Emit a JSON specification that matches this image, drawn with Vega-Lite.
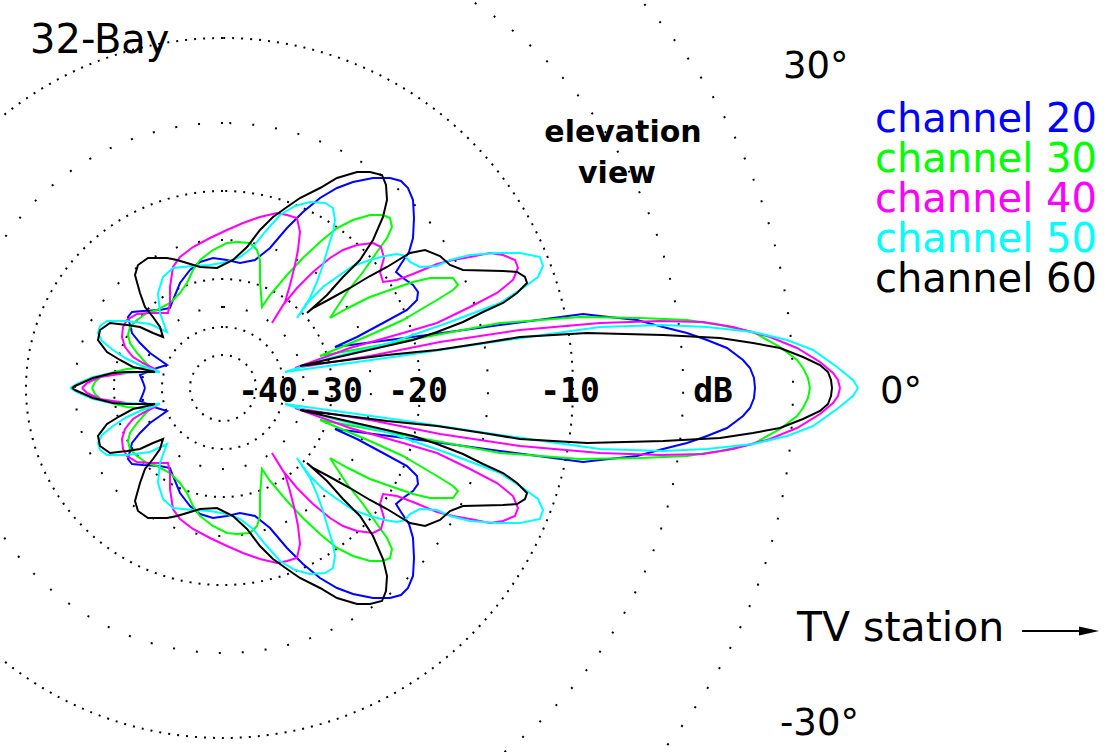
{
  "$schema": "https://vega.github.io/schema/vega-lite/v6.json",
  "description": "32-Bay antenna elevation pattern, channels 20 to 60 (upper half traced, lower half mirrored by scale)",
  "width": 1105,
  "height": 752,
  "autosize": {"type": "none"},
  "padding": 0,
  "background": "white",
  "config": {"view": {"stroke": null}},
  "datasets": {
    "pattern": [
      {"ch":"channel 20","x":532,"y":0},{"ch":"channel 20","x":531,"y":10},{"ch":"channel 20","x":527,"y":20},{"ch":"channel 20","x":520,"y":28},{"ch":"channel 20","x":504,"y":40},{"ch":"channel 20","x":484,"y":48},{"ch":"channel 20","x":464,"y":55},{"ch":"channel 20","x":440,"y":61},{"ch":"channel 20","x":414,"y":68},{"ch":"channel 20","x":377,"y":72},{"ch":"channel 20","x":360,"y":74},{"ch":"channel 20","x":277,"y":63},{"ch":"channel 20","x":197,"y":52},{"ch":"channel 20","x":112,"y":41},{"ch":"channel 20","x":134,"y":51},{"ch":"channel 20","x":160,"y":65},{"ch":"channel 20","x":184,"y":78},{"ch":"channel 20","x":194,"y":88},{"ch":"channel 20","x":195,"y":96},{"ch":"channel 20","x":190,"y":103},{"ch":"channel 20","x":180,"y":110},{"ch":"channel 20","x":173,"y":116},{"ch":"channel 20","x":178,"y":124},{"ch":"channel 20","x":186,"y":136},{"ch":"channel 20","x":190,"y":150},{"ch":"channel 20","x":191,"y":170},{"ch":"channel 20","x":190,"y":188},{"ch":"channel 20","x":185,"y":200},{"ch":"channel 20","x":178,"y":207},{"ch":"channel 20","x":167,"y":210},{"ch":"channel 20","x":150,"y":210},{"ch":"channel 20","x":130,"y":206},{"ch":"channel 20","x":114,"y":200},{"ch":"channel 20","x":97,"y":190},{"ch":"channel 20","x":80,"y":176},{"ch":"channel 20","x":64,"y":160},{"ch":"channel 20","x":47,"y":140},{"ch":"channel 20","x":32,"y":128},{"ch":"channel 20","x":17,"y":125},{"ch":"channel 20","x":4,"y":128},{"ch":"channel 20","x":-10,"y":130},{"ch":"channel 20","x":-23,"y":126},{"ch":"channel 20","x":-33,"y":118},{"ch":"channel 20","x":-43,"y":105},{"ch":"channel 20","x":-50,"y":88},{"ch":"channel 20","x":-53,"y":80},{"ch":"channel 20","x":-63,"y":78},{"ch":"channel 20","x":-80,"y":77},{"ch":"channel 20","x":-91,"y":76},{"ch":"channel 20","x":-95,"y":71},{"ch":"channel 20","x":-91,"y":55},{"ch":"channel 20","x":-83,"y":45},{"ch":"channel 20","x":-73,"y":35},{"ch":"channel 20","x":-63,"y":28},{"ch":"channel 20","x":-56,"y":23},{"ch":"channel 20","x":-66,"y":20},{"ch":"channel 20","x":-83,"y":13},{"ch":"channel 20","x":-80,"y":6},{"ch":"channel 20","x":-78,"y":0},
      {"ch":"channel 30","x":587,"y":0},{"ch":"channel 30","x":585,"y":10},{"ch":"channel 30","x":580,"y":20},{"ch":"channel 30","x":574,"y":28},{"ch":"channel 30","x":557,"y":41},{"ch":"channel 30","x":530,"y":56},{"ch":"channel 30","x":497,"y":63},{"ch":"channel 30","x":464,"y":68},{"ch":"channel 30","x":417,"y":70},{"ch":"channel 30","x":357,"y":71},{"ch":"channel 30","x":277,"y":65},{"ch":"channel 30","x":197,"y":50},{"ch":"channel 30","x":97,"y":32},{"ch":"channel 30","x":147,"y":53},{"ch":"channel 30","x":180,"y":68},{"ch":"channel 30","x":197,"y":78},{"ch":"channel 30","x":214,"y":88},{"ch":"channel 30","x":230,"y":98},{"ch":"channel 30","x":235,"y":103},{"ch":"channel 30","x":230,"y":110},{"ch":"channel 30","x":207,"y":110},{"ch":"channel 30","x":190,"y":106},{"ch":"channel 30","x":167,"y":98},{"ch":"channel 30","x":147,"y":91},{"ch":"channel 30","x":125,"y":80},{"ch":"channel 30","x":107,"y":70},{"ch":"channel 30","x":124,"y":96},{"ch":"channel 30","x":140,"y":116},{"ch":"channel 30","x":154,"y":136},{"ch":"channel 30","x":164,"y":150},{"ch":"channel 30","x":169,"y":161},{"ch":"channel 30","x":167,"y":170},{"ch":"channel 30","x":160,"y":173},{"ch":"channel 30","x":147,"y":173},{"ch":"channel 30","x":130,"y":168},{"ch":"channel 30","x":114,"y":160},{"ch":"channel 30","x":97,"y":146},{"ch":"channel 30","x":80,"y":130},{"ch":"channel 30","x":64,"y":113},{"ch":"channel 30","x":47,"y":93},{"ch":"channel 30","x":39,"y":81},{"ch":"channel 30","x":37,"y":108},{"ch":"channel 30","x":37,"y":128},{"ch":"channel 30","x":34,"y":138},{"ch":"channel 30","x":27,"y":145},{"ch":"channel 30","x":14,"y":146},{"ch":"channel 30","x":4,"y":145},{"ch":"channel 30","x":-10,"y":138},{"ch":"channel 30","x":-23,"y":128},{"ch":"channel 30","x":-30,"y":118},{"ch":"channel 30","x":-36,"y":105},{"ch":"channel 30","x":-43,"y":95},{"ch":"channel 30","x":-53,"y":85},{"ch":"channel 30","x":-66,"y":78},{"ch":"channel 30","x":-76,"y":75},{"ch":"channel 30","x":-86,"y":68},{"ch":"channel 30","x":-93,"y":61},{"ch":"channel 30","x":-95,"y":53},{"ch":"channel 30","x":-93,"y":45},{"ch":"channel 30","x":-86,"y":35},{"ch":"channel 30","x":-78,"y":26},{"ch":"channel 30","x":-73,"y":21},{"ch":"channel 30","x":-96,"y":19},{"ch":"channel 30","x":-120,"y":13},{"ch":"channel 30","x":-128,"y":6},{"ch":"channel 30","x":-131,"y":0},
      {"ch":"channel 40","x":617,"y":0},{"ch":"channel 40","x":615,"y":8},{"ch":"channel 40","x":610,"y":15},{"ch":"channel 40","x":597,"y":26},{"ch":"channel 40","x":574,"y":40},{"ch":"channel 40","x":547,"y":51},{"ch":"channel 40","x":510,"y":61},{"ch":"channel 40","x":480,"y":66},{"ch":"channel 40","x":437,"y":67},{"ch":"channel 40","x":377,"y":65},{"ch":"channel 40","x":297,"y":58},{"ch":"channel 40","x":217,"y":46},{"ch":"channel 40","x":147,"y":32},{"ch":"channel 40","x":72,"y":20},{"ch":"channel 40","x":127,"y":40},{"ch":"channel 40","x":180,"y":55},{"ch":"channel 40","x":214,"y":65},{"ch":"channel 40","x":247,"y":81},{"ch":"channel 40","x":274,"y":95},{"ch":"channel 40","x":290,"y":108},{"ch":"channel 40","x":295,"y":120},{"ch":"channel 40","x":292,"y":128},{"ch":"channel 40","x":280,"y":133},{"ch":"channel 40","x":267,"y":135},{"ch":"channel 40","x":247,"y":131},{"ch":"channel 40","x":230,"y":128},{"ch":"channel 40","x":214,"y":124},{"ch":"channel 40","x":190,"y":114},{"ch":"channel 40","x":174,"y":108},{"ch":"channel 40","x":160,"y":106},{"ch":"channel 40","x":157,"y":116},{"ch":"channel 40","x":161,"y":130},{"ch":"channel 40","x":158,"y":141},{"ch":"channel 40","x":150,"y":145},{"ch":"channel 40","x":134,"y":143},{"ch":"channel 40","x":120,"y":138},{"ch":"channel 40","x":107,"y":130},{"ch":"channel 40","x":90,"y":116},{"ch":"channel 40","x":74,"y":100},{"ch":"channel 40","x":60,"y":83},{"ch":"channel 40","x":49,"y":65},{"ch":"channel 40","x":62,"y":86},{"ch":"channel 40","x":67,"y":103},{"ch":"channel 40","x":72,"y":123},{"ch":"channel 40","x":75,"y":138},{"ch":"channel 40","x":77,"y":156},{"ch":"channel 40","x":74,"y":170},{"ch":"channel 40","x":64,"y":173},{"ch":"channel 40","x":54,"y":175},{"ch":"channel 40","x":37,"y":171},{"ch":"channel 40","x":20,"y":165},{"ch":"channel 40","x":4,"y":158},{"ch":"channel 40","x":-13,"y":150},{"ch":"channel 40","x":-30,"y":141},{"ch":"channel 40","x":-43,"y":131},{"ch":"channel 40","x":-50,"y":121},{"ch":"channel 40","x":-53,"y":101},{"ch":"channel 40","x":-53,"y":85},{"ch":"channel 40","x":-55,"y":75},{"ch":"channel 40","x":-73,"y":75},{"ch":"channel 40","x":-86,"y":74},{"ch":"channel 40","x":-96,"y":68},{"ch":"channel 40","x":-100,"y":61},{"ch":"channel 40","x":-101,"y":51},{"ch":"channel 40","x":-98,"y":41},{"ch":"channel 40","x":-90,"y":31},{"ch":"channel 40","x":-80,"y":25},{"ch":"channel 40","x":-68,"y":19},{"ch":"channel 40","x":-73,"y":16},{"ch":"channel 40","x":-90,"y":16},{"ch":"channel 40","x":-123,"y":11},{"ch":"channel 40","x":-136,"y":5},{"ch":"channel 40","x":-141,"y":0},
      {"ch":"channel 50","x":635,"y":0},{"ch":"channel 50","x":630,"y":8},{"ch":"channel 50","x":614,"y":21},{"ch":"channel 50","x":590,"y":38},{"ch":"channel 50","x":564,"y":48},{"ch":"channel 50","x":530,"y":56},{"ch":"channel 50","x":484,"y":61},{"ch":"channel 50","x":440,"y":63},{"ch":"channel 50","x":377,"y":61},{"ch":"channel 50","x":277,"y":47},{"ch":"channel 50","x":177,"y":32},{"ch":"channel 50","x":62,"y":16},{"ch":"channel 50","x":107,"y":30},{"ch":"channel 50","x":167,"y":45},{"ch":"channel 50","x":227,"y":66},{"ch":"channel 50","x":277,"y":85},{"ch":"channel 50","x":300,"y":100},{"ch":"channel 50","x":315,"y":111},{"ch":"channel 50","x":320,"y":122},{"ch":"channel 50","x":317,"y":131},{"ch":"channel 50","x":297,"y":135},{"ch":"channel 50","x":274,"y":135},{"ch":"channel 50","x":247,"y":133},{"ch":"channel 50","x":227,"y":128},{"ch":"channel 50","x":214,"y":122},{"ch":"channel 50","x":197,"y":121},{"ch":"channel 50","x":187,"y":126},{"ch":"channel 50","x":182,"y":132},{"ch":"channel 50","x":174,"y":134},{"ch":"channel 50","x":162,"y":132},{"ch":"channel 50","x":147,"y":128},{"ch":"channel 50","x":130,"y":122},{"ch":"channel 50","x":114,"y":111},{"ch":"channel 50","x":100,"y":101},{"ch":"channel 50","x":87,"y":88},{"ch":"channel 50","x":74,"y":70},{"ch":"channel 50","x":87,"y":90},{"ch":"channel 50","x":94,"y":106},{"ch":"channel 50","x":100,"y":123},{"ch":"channel 50","x":105,"y":140},{"ch":"channel 50","x":110,"y":156},{"ch":"channel 50","x":112,"y":168},{"ch":"channel 50","x":110,"y":180},{"ch":"channel 50","x":102,"y":185},{"ch":"channel 50","x":87,"y":186},{"ch":"channel 50","x":72,"y":182},{"ch":"channel 50","x":57,"y":173},{"ch":"channel 50","x":42,"y":156},{"ch":"channel 50","x":30,"y":141},{"ch":"channel 50","x":17,"y":131},{"ch":"channel 50","x":4,"y":126},{"ch":"channel 50","x":-13,"y":123},{"ch":"channel 50","x":-30,"y":122},{"ch":"channel 50","x":-50,"y":120},{"ch":"channel 50","x":-60,"y":111},{"ch":"channel 50","x":-65,"y":95},{"ch":"channel 50","x":-63,"y":75},{"ch":"channel 50","x":-58,"y":61},{"ch":"channel 50","x":-56,"y":56},{"ch":"channel 50","x":-73,"y":64},{"ch":"channel 50","x":-96,"y":67},{"ch":"channel 50","x":-116,"y":67},{"ch":"channel 50","x":-123,"y":62},{"ch":"channel 50","x":-125,"y":55},{"ch":"channel 50","x":-121,"y":47},{"ch":"channel 50","x":-110,"y":38},{"ch":"channel 50","x":-96,"y":29},{"ch":"channel 50","x":-83,"y":23},{"ch":"channel 50","x":-63,"y":16},{"ch":"channel 50","x":-110,"y":15},{"ch":"channel 50","x":-130,"y":11},{"ch":"channel 50","x":-146,"y":4},{"ch":"channel 50","x":-153,"y":0},
      {"ch":"channel 60","x":609,"y":0},{"ch":"channel 60","x":608,"y":8},{"ch":"channel 60","x":605,"y":16},{"ch":"channel 60","x":597,"y":23},{"ch":"channel 60","x":580,"y":31},{"ch":"channel 60","x":557,"y":40},{"ch":"channel 60","x":530,"y":45},{"ch":"channel 60","x":497,"y":50},{"ch":"channel 60","x":440,"y":53},{"ch":"channel 60","x":364,"y":55},{"ch":"channel 60","x":297,"y":51},{"ch":"channel 60","x":260,"y":45},{"ch":"channel 60","x":214,"y":38},{"ch":"channel 60","x":164,"y":33},{"ch":"channel 60","x":77,"y":22},{"ch":"channel 60","x":137,"y":36},{"ch":"channel 60","x":190,"y":48},{"ch":"channel 60","x":214,"y":56},{"ch":"channel 60","x":240,"y":66},{"ch":"channel 60","x":260,"y":76},{"ch":"channel 60","x":280,"y":85},{"ch":"channel 60","x":294,"y":95},{"ch":"channel 60","x":304,"y":105},{"ch":"channel 60","x":302,"y":111},{"ch":"channel 60","x":294,"y":116},{"ch":"channel 60","x":280,"y":117},{"ch":"channel 60","x":240,"y":118},{"ch":"channel 60","x":227,"y":123},{"ch":"channel 60","x":217,"y":132},{"ch":"channel 60","x":202,"y":138},{"ch":"channel 60","x":187,"y":135},{"ch":"channel 60","x":177,"y":129},{"ch":"channel 60","x":164,"y":121},{"ch":"channel 60","x":147,"y":112},{"ch":"channel 60","x":127,"y":100},{"ch":"channel 60","x":107,"y":89},{"ch":"channel 60","x":90,"y":80},{"ch":"channel 60","x":84,"y":75},{"ch":"channel 60","x":104,"y":93},{"ch":"channel 60","x":120,"y":111},{"ch":"channel 60","x":137,"y":128},{"ch":"channel 60","x":150,"y":148},{"ch":"channel 60","x":160,"y":171},{"ch":"channel 60","x":164,"y":188},{"ch":"channel 60","x":163,"y":203},{"ch":"channel 60","x":159,"y":213},{"ch":"channel 60","x":147,"y":216},{"ch":"channel 60","x":134,"y":216},{"ch":"channel 60","x":114,"y":210},{"ch":"channel 60","x":97,"y":200},{"ch":"channel 60","x":77,"y":190},{"ch":"channel 60","x":64,"y":181},{"ch":"channel 60","x":50,"y":171},{"ch":"channel 60","x":37,"y":158},{"ch":"channel 60","x":24,"y":141},{"ch":"channel 60","x":10,"y":128},{"ch":"channel 60","x":-6,"y":120},{"ch":"channel 60","x":-23,"y":121},{"ch":"channel 60","x":-36,"y":125},{"ch":"channel 60","x":-46,"y":128},{"ch":"channel 60","x":-56,"y":130},{"ch":"channel 60","x":-75,"y":130},{"ch":"channel 60","x":-85,"y":123},{"ch":"channel 60","x":-88,"y":113},{"ch":"channel 60","x":-83,"y":95},{"ch":"channel 60","x":-78,"y":81},{"ch":"channel 60","x":-70,"y":71},{"ch":"channel 60","x":-63,"y":61},{"ch":"channel 60","x":-60,"y":51},{"ch":"channel 60","x":-70,"y":55},{"ch":"channel 60","x":-83,"y":61},{"ch":"channel 60","x":-96,"y":63},{"ch":"channel 60","x":-113,"y":65},{"ch":"channel 60","x":-123,"y":58},{"ch":"channel 60","x":-125,"y":48},{"ch":"channel 60","x":-116,"y":36},{"ch":"channel 60","x":-103,"y":28},{"ch":"channel 60","x":-90,"y":21},{"ch":"channel 60","x":-76,"y":18},{"ch":"channel 60","x":-68,"y":16},{"ch":"channel 60","x":-96,"y":16},{"ch":"channel 60","x":-110,"y":15},{"ch":"channel 60","x":-130,"y":10},{"ch":"channel 60","x":-148,"y":2},{"ch":"channel 60","x":-151,"y":0}
    ]
  },
  "layer": [
    {
      "layer": [
        {
          "data": {"values": [{"r": 33}, {"r": 61}, {"r": 109}, {"r": 197}, {"r": 350}]},
          "mark": {"type": "arc", "filled": false, "color": "black", "strokeWidth": 2, "strokeDash": [2, 7]},
          "encoding": {
            "x": {"datum": 0, "type": "quantitative", "scale": {"domain": [-223, 882], "nice": false, "zero": false}, "axis": null},
            "y": {"datum": 0, "type": "quantitative", "scale": {"domain": [-364, 388], "nice": false, "zero": false}, "axis": null},
            "radius": {"field": "r", "type": "quantitative", "stack": null, "scale": {"type": "linear", "domain": [0, 1000], "range": [0, 1000]}}
          }
        },
        {
          "data": {"values": [{"r": 81}, {"r": 148}, {"r": 265}, {"r": 460}, {"r": 570}]},
          "mark": {"type": "arc", "filled": false, "color": "black", "strokeWidth": 2, "strokeDash": [2, 21]},
          "encoding": {
            "x": {"datum": 0, "type": "quantitative", "scale": {"domain": [-223, 882], "nice": false, "zero": false}, "axis": null},
            "y": {"datum": 0, "type": "quantitative", "scale": {"domain": [-364, 388], "nice": false, "zero": false}, "axis": null},
            "radius": {"field": "r", "type": "quantitative", "stack": null, "scale": {"type": "linear", "domain": [0, 1000], "range": [0, 1000]}}
          }
        },
        {
          "data": {"name": "pattern"},
          "mark": {"type": "line", "strokeWidth": 2},
          "encoding": {
            "x": {"field": "x", "type": "quantitative", "scale": {"domain": [-223, 882], "nice": false, "zero": false}, "axis": null},
            "y": {"field": "y", "type": "quantitative", "scale": {"domain": [-364, 388], "nice": false, "zero": false}, "axis": null},
            "color": {
              "field": "ch", "type": "nominal",
              "scale": {"domain": ["channel 20", "channel 30", "channel 40", "channel 50", "channel 60"], "range": ["#0000ff", "#00ff00", "#ff00ff", "#00ffff", "#000000"]},
              "legend": {
                "orient": "none", "legendX": 835, "legendY": 100, "title": null, "padding": 0,
                "labelFont": "DejaVu Sans", "labelFontSize": 40, "labelLimit": 400, "labelOffset": 0,
                "symbolSize": 0, "symbolOpacity": 0, "symbolStrokeWidth": 0, "rowPadding": 0,
                "labelColor": {"expr": "scale('color', datum.value)"}
              }
            },
            "order": {"value": null}
          }
        },
        {
          "data": {"values": [{"t": "-40", "at": 45}, {"t": "-30", "at": 110}, {"t": "-20", "at": 195}, {"t": "-10", "at": 347}, {"t": "dB", "at": 490}]},
          "mark": {"type": "text", "font": "DejaVu Sans Mono", "fontWeight": "bold", "fontSize": 33, "align": "center", "baseline": "alphabetic", "color": "black"},
          "encoding": {
            "x": {"field": "at", "type": "quantitative", "scale": {"domain": [-223, 882], "nice": false, "zero": false}, "axis": null},
            "y": {"datum": -14, "type": "quantitative", "scale": {"domain": [-364, 388], "nice": false, "zero": false}, "axis": null},
            "text": {"field": "t"}
          }
        },
        {
          "data": {"values": [{}]},
          "mark": {"type": "text", "text": "32-Bay", "font": "DejaVu Sans", "fontSize": 40, "align": "left", "baseline": "alphabetic", "color": "black"},
          "encoding": {
            "x": {"datum": -193, "type": "quantitative", "scale": {"domain": [-223, 882], "nice": false, "zero": false}, "axis": null},
            "y": {"datum": 335, "type": "quantitative", "scale": {"domain": [-364, 388], "nice": false, "zero": false}, "axis": null}
          }
        },
        {
          "data": {"values": [{}]},
          "mark": {"type": "text", "text": "elevation", "font": "DejaVu Sans", "fontWeight": "bold", "fontSize": 30, "align": "center", "baseline": "alphabetic", "color": "black"},
          "encoding": {
            "x": {"datum": 400, "type": "quantitative", "scale": {"domain": [-223, 882], "nice": false, "zero": false}, "axis": null},
            "y": {"datum": 246, "type": "quantitative", "scale": {"domain": [-364, 388], "nice": false, "zero": false}, "axis": null}
          }
        },
        {
          "data": {"values": [{}]},
          "mark": {"type": "text", "text": "view", "font": "DejaVu Sans", "fontWeight": "bold", "fontSize": 30, "align": "center", "baseline": "alphabetic", "color": "black"},
          "encoding": {
            "x": {"datum": 394, "type": "quantitative", "scale": {"domain": [-223, 882], "nice": false, "zero": false}, "axis": null},
            "y": {"datum": 205, "type": "quantitative", "scale": {"domain": [-364, 388], "nice": false, "zero": false}, "axis": null}
          }
        },
        {
          "data": {"values": [{}]},
          "mark": {"type": "text", "text": "30°", "font": "DejaVu Sans", "fontSize": 37, "align": "left", "baseline": "alphabetic", "color": "black"},
          "encoding": {
            "x": {"datum": 560, "type": "quantitative", "scale": {"domain": [-223, 882], "nice": false, "zero": false}, "axis": null},
            "y": {"datum": 310, "type": "quantitative", "scale": {"domain": [-364, 388], "nice": false, "zero": false}, "axis": null}
          }
        },
        {
          "data": {"values": [{}]},
          "mark": {"type": "text", "text": "0°", "font": "DejaVu Sans", "fontSize": 37, "align": "left", "baseline": "alphabetic", "color": "black"},
          "encoding": {
            "x": {"datum": 657, "type": "quantitative", "scale": {"domain": [-223, 882], "nice": false, "zero": false}, "axis": null},
            "y": {"datum": -15, "type": "quantitative", "scale": {"domain": [-364, 388], "nice": false, "zero": false}, "axis": null}
          }
        },
        {
          "data": {"values": [{}]},
          "mark": {"type": "text", "text": "-30°", "font": "DejaVu Sans", "fontSize": 37, "align": "left", "baseline": "alphabetic", "color": "black"},
          "encoding": {
            "x": {"datum": 557, "type": "quantitative", "scale": {"domain": [-223, 882], "nice": false, "zero": false}, "axis": null},
            "y": {"datum": -347, "type": "quantitative", "scale": {"domain": [-364, 388], "nice": false, "zero": false}, "axis": null}
          }
        },
        {
          "data": {"values": [{}]},
          "mark": {"type": "text", "text": "TV station", "font": "DejaVu Sans", "fontSize": 41, "align": "left", "baseline": "alphabetic", "color": "black"},
          "encoding": {
            "x": {"datum": 574, "type": "quantitative", "scale": {"domain": [-223, 882], "nice": false, "zero": false}, "axis": null},
            "y": {"datum": -253, "type": "quantitative", "scale": {"domain": [-364, 388], "nice": false, "zero": false}, "axis": null}
          }
        },
        {
          "data": {"values": [{}]},
          "mark": {"type": "rule", "color": "black", "strokeWidth": 2},
          "encoding": {
            "x": {"datum": 799, "type": "quantitative", "scale": {"domain": [-223, 882], "nice": false, "zero": false}, "axis": null},
            "x2": {"datum": 862},
            "y": {"datum": -243, "type": "quantitative", "scale": {"domain": [-364, 388], "nice": false, "zero": false}, "axis": null}
          }
        },
        {
          "data": {"values": [{}]},
          "mark": {"type": "point", "shape": "M-1,-0.45L1,0L-1,0.45Z", "filled": true, "color": "black", "opacity": 1, "size": 400},
          "encoding": {
            "x": {"datum": 866, "type": "quantitative", "scale": {"domain": [-223, 882], "nice": false, "zero": false}, "axis": null},
            "y": {"datum": -243, "type": "quantitative", "scale": {"domain": [-364, 388], "nice": false, "zero": false}, "axis": null}
          }
        }
      ]
    },
    {
      "data": {"name": "pattern"},
      "mark": {"type": "line", "strokeWidth": 2},
      "encoding": {
        "x": {"field": "x", "type": "quantitative", "scale": {"domain": [-223, 882], "nice": false, "zero": false}, "axis": null},
        "y": {"field": "y", "type": "quantitative", "scale": {"domain": [-388, 364], "reverse": true, "nice": false, "zero": false}, "axis": null},
        "color": {"field": "ch", "type": "nominal", "legend": null},
        "order": {"value": null}
      }
    }
  ],
  "resolve": {"scale": {"y": "independent"}}
}
